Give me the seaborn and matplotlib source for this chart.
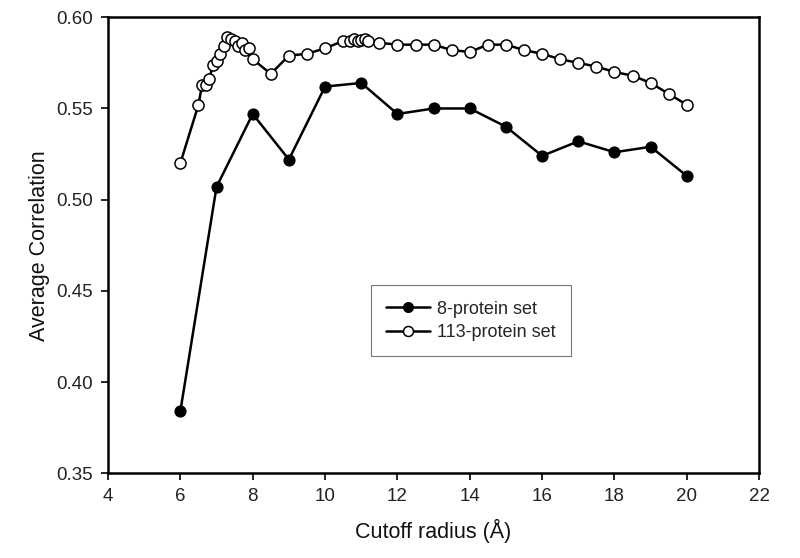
import matplotlib
matplotlib.use("Agg")
import matplotlib.pyplot as plt
import numpy as np
import pandas as pd
import seaborn as sns

# 8-protein set
radius_8 = [6, 7, 8, 9, 10, 11, 12, 13, 14, 15, 16, 17, 18, 19, 20]
corr_8 = [0.384, 0.507, 0.547, 0.522, 0.562, 0.564, 0.547, 0.550, 0.550,
          0.540, 0.524, 0.532, 0.526, 0.529, 0.513]

# 113-protein set
radius_113 = [6.0, 6.5, 6.6, 6.7, 6.8, 6.9, 7.0, 7.1, 7.2, 7.3, 7.4, 7.5, 7.6,
              7.7, 7.8, 7.9, 8.0, 8.5, 9.0, 9.5, 10.0, 10.5, 10.7, 10.8, 10.9,
              11.0, 11.1, 11.2, 11.5, 12.0, 12.5, 13.0, 13.5, 14.0, 14.5, 15.0,
              15.5, 16.0, 16.5, 17.0, 17.5, 18.0, 18.5, 19.0, 19.5, 20.0]
corr_113 = [0.520, 0.552, 0.563, 0.563, 0.566, 0.574, 0.576, 0.580, 0.584,
            0.589, 0.588, 0.587, 0.584, 0.586, 0.582, 0.583, 0.577, 0.569,
            0.579, 0.580, 0.583, 0.587, 0.587, 0.588, 0.587, 0.5875, 0.588,
            0.587, 0.586, 0.585, 0.585, 0.585, 0.582, 0.581, 0.585, 0.585,
            0.582, 0.580, 0.577, 0.575, 0.573, 0.570, 0.568, 0.564, 0.558,
            0.552]

xticks = [4, 6, 8, 10, 12, 14, 16, 18, 20, 22]
yticks = [0.35, 0.40, 0.45, 0.50, 0.55, 0.60]

sns.set_style("ticks")
plt.rcParams['font.family'] = ['Liberation Sans', 'DejaVu Sans']

df8 = pd.DataFrame({"radius": radius_8, "corr": corr_8})
df113 = pd.DataFrame({"radius": radius_113, "corr": corr_113})

fig = plt.figure(figsize=(8, 5.58), dpi=100)
ax = fig.add_axes([0.135, 0.152, 0.814, 0.817])

sns.lineplot(data=df8, x="radius", y="corr", ax=ax, color="black", lw=1.8,
             marker="o", markersize=8, markerfacecolor="black",
             markeredgecolor="black", label="8-protein set")
sns.lineplot(data=df113, x="radius", y="corr", ax=ax, color="black", lw=1.8,
             marker="o", markersize=8, markerfacecolor="white",
             markeredgecolor="black", markeredgewidth=1.1,
             label="113-protein set")

ax.set_xlim(4, 22)
ax.set_ylim(0.35, 0.60)
ax.set_xticks(xticks)
ax.set_yticks(yticks)
ax.set_yticklabels([f"{v:.2f}" for v in yticks])
ax.tick_params(direction="out", length=5, width=1.2, labelsize=13.5,
               colors="black", labelcolor="#222222", pad=6)
for side in ["top", "right", "left", "bottom"]:
    ax.spines[side].set_visible(True)
    ax.spines[side].set_color("black")
    ax.spines[side].set_linewidth(1.8)

ax.set_xlabel("Cutoff radius (Å)", fontsize=15.5, labelpad=10, color="#111111")
ax.set_ylabel("Average Correlation", fontsize=15.5, labelpad=4, color="#111111")

leg = ax.legend(loc="upper left", bbox_to_anchor=(0.404, 0.412), fontsize=13,
                frameon=True, fancybox=False, edgecolor="#555555",
                handlelength=2.4, borderpad=0.85, labelspacing=0.35,
                handletextpad=0.4, borderaxespad=0, markerscale=0.9)
leg.get_frame().set_linewidth(0.8)

plt.savefig("out.png", dpi=100)
plt.close()
